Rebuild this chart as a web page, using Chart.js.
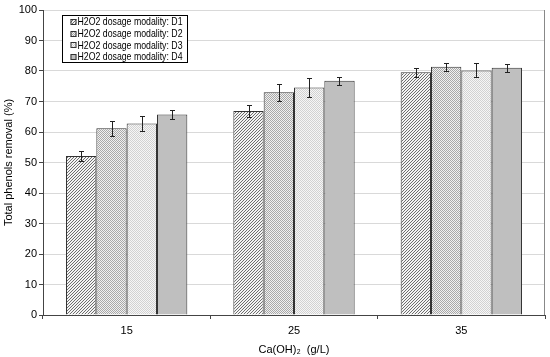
<!DOCTYPE html>
<html><head><meta charset="utf-8">
<script src="https://cdn.jsdelivr.net/npm/chart.js@4/dist/chart.umd.min.js"></script>
<style>html,body{margin:0;padding:0;background:#fff}#wrap{width:550px;height:357px}</style>
</head><body><div id="wrap"><canvas id="c" width="550" height="357"></canvas></div>
<script>
const categories = ['15', '25', '35'];
const seriesLabels = ['H2O2 dosage modality: D1', 'H2O2 dosage modality: D2', 'H2O2 dosage modality: D3', 'H2O2 dosage modality: D4'];
const d1 = [52.1, 66.9, 79.6];
const d2 = [61.2, 73.0, 81.4];
const d3 = [62.8, 74.6, 80.2];
const d4 = [65.7, 76.8, 81.1];
const e1 = [1.7, 2.0, 1.5];
const e2 = [2.5, 2.8, 1.3];
const e3 = [2.4, 3.0, 2.3];
const e4 = [1.4, 1.3, 1.3];
const yTicks = [0,10,20,30,40,50,60,70,80,90,100];
const FONT='"Liberation Sans", Arial, sans-serif';

function makePattern(kind){
  const c = document.createElement('canvas');
  const g=c.getContext('2d');
  if(kind==='hatch'){
    const s=3;c.width=s;c.height=s;
    g.fillStyle='#f4f4f4';g.fillRect(0,0,s,s);
    g.fillStyle='#6e6e6e';
    for(let i=0;i<s;i++){g.fillRect(i,s-1-i,1,1);}
  } else if(kind==='check'){
    const s=2;c.width=s;c.height=s;
    g.fillStyle='#f0f0f0';g.fillRect(0,0,s,s);
    g.fillStyle='#a8a8a8';g.fillRect(0,0,1,1);g.fillRect(1,1,1,1);
  } else {
    const s=2;c.width=s;c.height=s;
    g.fillStyle='#f6f6f6';g.fillRect(0,0,s,s);
    g.fillStyle='#d2d2d2';g.fillRect(0,0,1,1);g.fillRect(1,1,1,1);
  }
  return g.createPattern(c,'repeat');
}
const fills=[makePattern('hatch'),makePattern('check'),makePattern('dots'),'#bfbfbf'];
const vals=[d1,d2,d3,d4], errs=[e1,e2,e3,e4];

const errPlugin={id:'err',afterDatasetsDraw(chart){
  const ctx=chart.ctx, y=chart.scales.y;
  ctx.save();ctx.strokeStyle='#222';ctx.lineWidth=1;
  chart.data.datasets.forEach((ds,i)=>{
    const meta=chart.getDatasetMeta(i);
    meta.data.forEach((bar,j)=>{
      const v=ds.data[j], e=errs[i][j];
      const x=Math.round(bar.x)+0.5, yt=Math.round(y.getPixelForValue(v+e))+0.5, yb=Math.round(y.getPixelForValue(v-e))+0.5;
      ctx.beginPath();ctx.moveTo(x,yt);ctx.lineTo(x,yb);
      ctx.moveTo(x-2.5,yt);ctx.lineTo(x+2.5,yt);ctx.moveTo(x-2.5,yb);ctx.lineTo(x+2.5,yb);ctx.stroke();
    });
  });
  ctx.restore();
}};
const legendPlugin={id:'lg',afterDraw(chart){
  const ctx=chart.ctx;ctx.save();
  const bx=62.5,by=15.5,bw=125,bh=47;
  ctx.fillStyle='#fff';ctx.fillRect(bx,by,bw,bh);
  ctx.strokeStyle='#000';ctx.lineWidth=1;ctx.strokeRect(bx,by,bw,bh);
  ctx.font='10.5px '+FONT;ctx.textBaseline='middle';ctx.fillStyle='#000';
  chart.data.datasets.forEach((ds,i)=>{
    const yy=by+6.5+i*11.7;
    ctx.fillStyle=ds.backgroundColor;ctx.fillRect(bx+8,Math.round(yy-3),6,6);
    ctx.strokeStyle='#333';ctx.strokeRect(bx+8.5,Math.round(yy-3)+0.5,5,5);
    ctx.fillStyle='#000';
    const w=ctx.measureText(ds.label).width, target=105;
    ctx.save();ctx.translate(bx+15,yy+0.5);ctx.scale(Math.min(1,target/w),1);ctx.fillText(ds.label,0,0);ctx.restore();
  });
  const a=chart.chartArea;
  ctx.strokeStyle='#888';ctx.beginPath();ctx.moveTo(Math.round(a.right)-0.5,a.top);ctx.lineTo(Math.round(a.right)-0.5,a.bottom);ctx.stroke();
  ctx.restore();
}};

new Chart(document.getElementById('c'),{
  type:'bar',
  data:{labels:categories,datasets:vals.map((v,i)=>({label:seriesLabels[i],data:v,backgroundColor:fills[i],borderColor:'#333',borderWidth:1,borderSkipped:'bottom',categoryPercentage:0.725,barPercentage:1}))},
  options:{
    responsive:false,animation:false,
    layout:{padding:{top:10,right:5,left:0,bottom:0}},
    plugins:{legend:{display:false},tooltip:{enabled:false}},
    scales:{
      x:{
        grid:{display:true,offset:true,drawOnChartArea:false,tickLength:4,color:'#444'},
        border:{color:'#444'},
        ticks:{color:'#000',font:{family:FONT,size:11},padding:5},
        title:{display:true,text:'Ca(OH)₂  (g/L)',color:'#000',font:{family:FONT,size:11},padding:{top:1,bottom:0}},
        afterFit(s){s.height=42;}
      },
      y:{
        min:0,max:100,
        afterBuildTicks(s){s.ticks=yTicks.map(v=>({value:v}));},
        grid:{color:'#d9d9d9',tickColor:'#444',tickLength:4},
        border:{color:'#444'},
        ticks:{color:'#000',font:{family:FONT,size:11},padding:2},
        title:{display:true,text:'Total phenols removal (%)',color:'#000',font:{family:FONT,size:11},padding:{top:2,bottom:2}},
        afterFit(s){s.width=43;}
      }
    }
  },
  plugins:[errPlugin,legendPlugin]
});
</script></body></html>
